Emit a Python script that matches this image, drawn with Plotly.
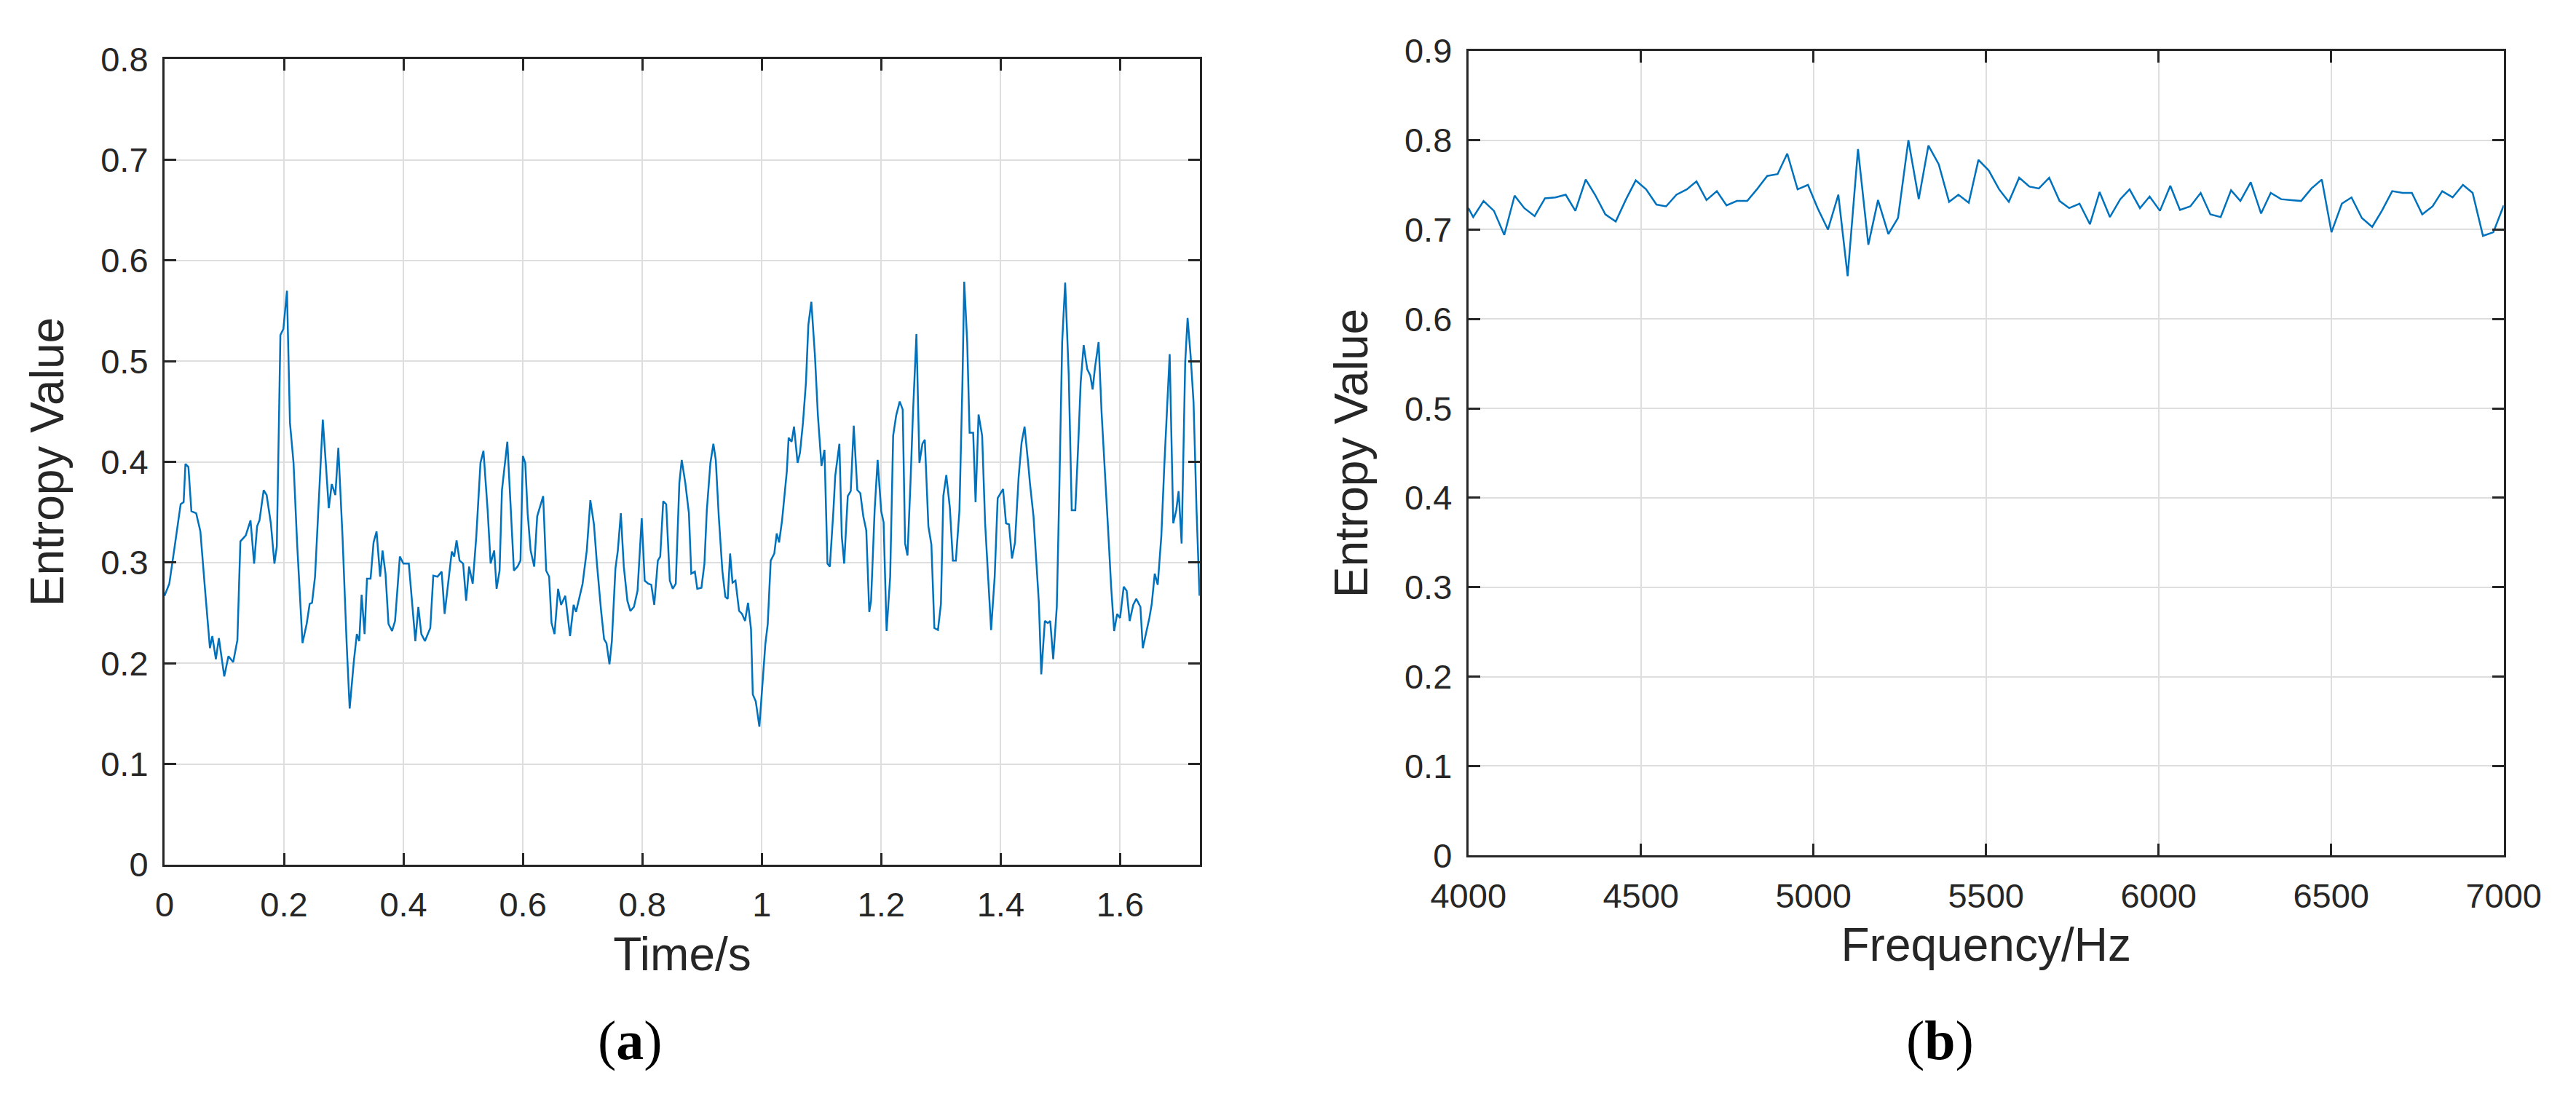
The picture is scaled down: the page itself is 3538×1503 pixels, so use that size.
import plotly.graph_objects as go

time_s = [0,0.008,0.017,0.027,0.032,0.035,0.04,0.045,0.053,0.06,0.068,0.076,0.08,0.086,0.091,0.1,0.107,0.115,0.122,0.127,0.136,0.144,0.15,0.155,0.159,0.166,0.171,0.178,0.184,0.188,0.194,0.199,0.205,0.21,0.216,0.222,0.231,0.238,0.243,0.247,0.252,0.259,0.265,0.27,0.275,0.28,0.286,0.291,0.298,0.305,0.31,0.317,0.322,0.326,0.33,0.335,0.339,0.345,0.35,0.355,0.361,0.365,0.37,0.375,0.381,0.386,0.394,0.4,0.405,0.409,0.42,0.425,0.43,0.436,0.445,0.45,0.457,0.464,0.469,0.476,0.481,0.485,0.489,0.494,0.5,0.505,0.51,0.516,0.522,0.529,0.534,0.541,0.546,0.552,0.556,0.561,0.565,0.574,0.58,0.585,0.591,0.596,0.6,0.604,0.608,0.613,0.619,0.624,0.634,0.639,0.644,0.648,0.653,0.659,0.664,0.671,0.679,0.685,0.689,0.695,0.7,0.707,0.713,0.719,0.724,0.731,0.736,0.74,0.745,0.749,0.755,0.759,0.764,0.769,0.775,0.78,0.786,0.792,0.799,0.804,0.81,0.815,0.82,0.826,0.83,0.835,0.84,0.846,0.851,0.856,0.862,0.866,0.872,0.878,0.882,0.888,0.892,0.899,0.904,0.908,0.914,0.919,0.923,0.928,0.934,0.939,0.943,0.947,0.951,0.956,0.962,0.967,0.972,0.977,0.982,0.985,0.99,0.996,1.0,1.006,1.01,1.015,1.021,1.025,1.029,1.034,1.042,1.045,1.05,1.054,1.06,1.064,1.069,1.074,1.078,1.083,1.089,1.094,1.1,1.105,1.11,1.114,1.12,1.123,1.13,1.134,1.138,1.144,1.149,1.154,1.16,1.165,1.17,1.175,1.18,1.183,1.189,1.194,1.2,1.204,1.209,1.215,1.22,1.225,1.231,1.236,1.24,1.244,1.249,1.253,1.259,1.264,1.269,1.273,1.279,1.284,1.289,1.295,1.3,1.304,1.309,1.315,1.32,1.325,1.331,1.336,1.339,1.344,1.348,1.354,1.358,1.363,1.369,1.374,1.379,1.384,1.39,1.395,1.404,1.409,1.414,1.419,1.424,1.43,1.435,1.44,1.446,1.449,1.455,1.46,1.464,1.468,1.474,1.479,1.483,1.488,1.494,1.498,1.503,1.508,1.514,1.519,1.525,1.53,1.534,1.539,1.545,1.55,1.554,1.558,1.564,1.569,1.574,1.58,1.585,1.59,1.595,1.6,1.606,1.611,1.616,1.622,1.627,1.634,1.638,1.643,1.649,1.653,1.658,1.663,1.669,1.674,1.679,1.683,1.689,1.694,1.698,1.703,1.709,1.713,1.718,1.723,1.728,1.733]
entropy_a = [0.267,0.279,0.316,0.358,0.36,0.398,0.395,0.351,0.349,0.331,0.272,0.215,0.227,0.204,0.225,0.187,0.207,0.201,0.223,0.321,0.327,0.342,0.299,0.336,0.342,0.372,0.367,0.339,0.299,0.316,0.526,0.532,0.570,0.439,0.399,0.319,0.22,0.239,0.259,0.26,0.286,0.366,0.442,0.399,0.354,0.378,0.367,0.414,0.326,0.219,0.155,0.202,0.229,0.222,0.268,0.229,0.284,0.284,0.32,0.331,0.286,0.312,0.289,0.239,0.232,0.242,0.306,0.299,0.299,0.299,0.222,0.256,0.229,0.222,0.235,0.287,0.286,0.291,0.249,0.286,0.311,0.306,0.322,0.302,0.299,0.262,0.296,0.279,0.326,0.399,0.411,0.352,0.299,0.312,0.274,0.292,0.372,0.42,0.352,0.292,0.296,0.302,0.406,0.399,0.349,0.312,0.296,0.346,0.366,0.292,0.286,0.24,0.229,0.274,0.258,0.267,0.227,0.258,0.251,0.266,0.279,0.312,0.362,0.338,0.299,0.252,0.224,0.22,0.199,0.222,0.294,0.312,0.349,0.296,0.262,0.252,0.256,0.272,0.344,0.282,0.279,0.278,0.258,0.302,0.306,0.361,0.358,0.282,0.274,0.279,0.379,0.402,0.379,0.349,0.289,0.291,0.274,0.275,0.299,0.352,0.399,0.418,0.402,0.346,0.292,0.266,0.264,0.309,0.28,0.282,0.252,0.249,0.242,0.26,0.234,0.169,0.162,0.137,0.172,0.219,0.239,0.302,0.309,0.329,0.32,0.342,0.391,0.424,0.42,0.435,0.399,0.409,0.439,0.479,0.536,0.559,0.506,0.446,0.396,0.412,0.299,0.296,0.352,0.386,0.418,0.326,0.299,0.366,0.371,0.436,0.372,0.369,0.346,0.332,0.251,0.262,0.352,0.402,0.351,0.34,0.232,0.286,0.426,0.446,0.46,0.452,0.319,0.307,0.379,0.446,0.527,0.399,0.418,0.422,0.336,0.318,0.235,0.233,0.259,0.366,0.387,0.354,0.302,0.302,0.352,0.479,0.579,0.519,0.429,0.429,0.36,0.447,0.426,0.339,0.286,0.233,0.286,0.364,0.373,0.339,0.338,0.304,0.32,0.384,0.419,0.435,0.399,0.379,0.346,0.299,0.26,0.189,0.242,0.24,0.242,0.204,0.256,0.366,0.519,0.578,0.486,0.352,0.352,0.419,0.479,0.516,0.492,0.486,0.472,0.494,0.519,0.449,0.399,0.332,0.276,0.232,0.249,0.245,0.276,0.272,0.242,0.258,0.264,0.256,0.215,0.229,0.245,0.259,0.289,0.278,0.326,0.396,0.459,0.507,0.339,0.352,0.371,0.319,0.499,0.543,0.506,0.459,0.352,0.267]

freq_hz = [4000,4014,4044,4074,4104,4134,4162,4192,4222,4252,4282,4310,4340,4367,4397,4427,4457,4485,4515,4545,4573,4603,4633,4661,4690,4720,4748,4778,4808,4836,4866,4896,4924,4954,4984,5012,5042,5072,5099,5129,5159,5187,5217,5245,5275,5305,5333,5363,5393,5420,5450,5478,5508,5538,5566,5596,5626,5653,5683,5713,5741,5771,5801,5829,5859,5889,5916,5946,5974,6004,6034,6062,6092,6122,6150,6180,6210,6237,6267,6297,6325,6355,6385,6413,6443,6473,6501,6531,6559,6589,6619,6647,6677,6707,6734,6764,6794,6822,6852,6882,6910,6940,6970,7000]
entropy_b = [0.724,0.714,0.732,0.721,0.694,0.738,0.724,0.715,0.735,0.736,0.739,0.721,0.756,0.739,0.717,0.709,0.734,0.755,0.745,0.728,0.726,0.739,0.745,0.754,0.733,0.743,0.727,0.732,0.732,0.745,0.76,0.762,0.785,0.745,0.75,0.724,0.70,0.739,0.648,0.79,0.683,0.733,0.695,0.713,0.80,0.734,0.794,0.773,0.731,0.739,0.73,0.778,0.766,0.745,0.731,0.758,0.748,0.746,0.758,0.732,0.724,0.729,0.706,0.742,0.714,0.734,0.745,0.724,0.737,0.721,0.749,0.722,0.726,0.741,0.717,0.714,0.744,0.732,0.753,0.718,0.741,0.734,0.733,0.732,0.746,0.756,0.697,0.729,0.736,0.713,0.703,0.721,0.743,0.741,0.741,0.717,0.726,0.743,0.736,0.75,0.741,0.693,0.697,0.727]

W, H = 3538, 1503
FONT = "Liberation Sans, Arial, sans-serif"
AX = "#262626"
LINE = "#0072BD"

fig = go.Figure()
fig.add_trace(go.Scatter(x=time_s, y=entropy_a, mode="lines", line=dict(color=LINE, width=2.5),
                         xaxis="x", yaxis="y", showlegend=False))
fig.add_trace(go.Scatter(x=freq_hz, y=entropy_b, mode="lines", line=dict(color=LINE, width=2.5),
                         xaxis="x2", yaxis="y2", showlegend=False))

common = dict(showline=True, linecolor=AX, linewidth=3, mirror="ticks", ticks="inside",
              ticklen=16, tickwidth=3, tickcolor=AX, showgrid=True, gridcolor="#dedede",
              gridwidth=2, zeroline=False, tickfont=dict(family=FONT, size=47, color=AX))
tf = dict(family=FONT, size=64, color=AX)

fig.update_layout(
    width=W, height=H, paper_bgcolor="white", plot_bgcolor="white",
    margin=dict(l=0, r=0, t=0, b=0),
    xaxis=dict(domain=[171/W, 1636/W], range=[0, 1.7335], dtick=0.2, anchor="y",
               ticklabelstandoff=12,
               title=dict(text="Time/s", font=tf, standoff=20), **common),
    yaxis=dict(domain=[1-1195/H, 1-48/H], range=[0, 0.8], dtick=0.1, anchor="x",
               ticklabelstandoff=10,
               title=dict(text="Entropy Value", font=tf, standoff=30), **common),
    xaxis2=dict(domain=[2016/W, 3481/W], range=[4000, 7000], dtick=500, anchor="y2",
                ticklabelstandoff=12,
                title=dict(text="Frequency/Hz", font=tf, standoff=20), **common),
    yaxis2=dict(domain=[1-1182/H, 1-36/H], range=[0, 0.9], dtick=0.1, anchor="x2",
                ticklabelstandoff=10,
                title=dict(text="Entropy Value", font=tf, standoff=30), **common),
    annotations=[
        dict(text="(<b>a</b>)", x=830/W, y=1-1445/H, xref="paper", yref="paper", showarrow=False,
             xanchor="center", yanchor="middle",
             font=dict(family="Liberation Serif, serif", size=76, color="black")),
        dict(text="(<b>b</b>)", x=2683/W, y=1-1445/H, xref="paper", yref="paper", showarrow=False,
             xanchor="center", yanchor="middle",
             font=dict(family="Liberation Serif, serif", size=76, color="black")),
    ],
)
fig.write_html("out.html")
